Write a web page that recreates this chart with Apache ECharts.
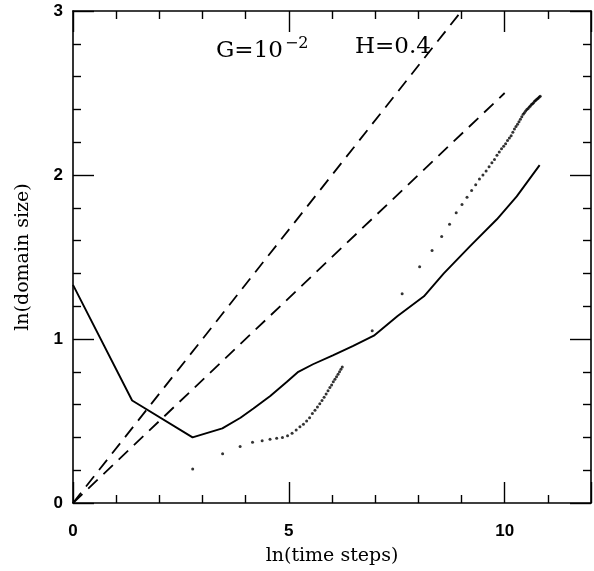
<!DOCTYPE html>
<html>
<head>
<meta charset="utf-8">
<script src="https://cdn.jsdelivr.net/npm/echarts@6/dist/echarts.min.js"></script>
<style>html,body{margin:0;padding:0;background:#fff}#c{width:594px;height:571px}</style>
</head>
<body>
<div id="c"></div>
<script>
// Solid curve: ln(time steps), ln(domain size)
const solidX = [0, 1.37, 2.77, 3.46, 3.88, 4.18, 4.57, 4.95, 5.22, 5.56, 6.02, 6.48, 6.97, 7.52, 8.13, 8.59, 9.20, 9.82, 10.28, 10.81];
const solidY = [1.33, 0.625, 0.40, 0.455, 0.52, 0.576, 0.653, 0.738, 0.80, 0.846, 0.90, 0.957, 1.02, 1.14, 1.26, 1.40, 1.566, 1.73, 1.87, 2.06];

// Dotted curve, early part
const dotX1 = [2.773, 3.466, 3.871, 4.159, 4.382, 4.564, 4.718, 4.852, 4.970, 5.075, 5.170, 5.257, 5.338, 5.412, 5.481, 5.545,
               5.606, 5.663, 5.717, 5.768, 5.817, 5.864, 5.908, 5.951, 5.991, 6.030, 6.068, 6.105, 6.140, 6.174, 6.207, 6.238];
const dotY1 = [0.207, 0.30, 0.345, 0.37, 0.38, 0.388, 0.395, 0.40, 0.41, 0.425, 0.445, 0.465, 0.48, 0.50, 0.52, 0.545,
               0.565, 0.585, 0.605, 0.625, 0.645, 0.665, 0.685, 0.705, 0.72, 0.74, 0.755, 0.77, 0.785, 0.80, 0.815, 0.83];

// Dotted curve, late part
const dotX2 = [6.931, 7.625, 8.030, 8.318, 8.541, 8.723, 8.877, 9.011, 9.128, 9.234, 9.329, 9.416, 9.496, 9.570, 9.639, 9.704,
               9.764, 9.821, 9.875, 9.927, 9.976, 10.022, 10.066, 10.109, 10.150, 10.189, 10.227, 10.263, 10.298, 10.332, 10.365,
               10.397, 10.428, 10.457, 10.486, 10.515, 10.542, 10.569, 10.595, 10.620, 10.645, 10.669, 10.692, 10.715, 10.738,
               10.760, 10.781, 10.802, 10.823];
const dotY2 = [1.05, 1.276, 1.44, 1.54, 1.625, 1.70, 1.77, 1.82, 1.865, 1.905, 1.94, 1.975, 2.00, 2.025, 2.05, 2.075,
               2.095, 2.12, 2.14, 2.16, 2.175, 2.19, 2.21, 2.225, 2.24, 2.26, 2.28, 2.295, 2.31, 2.325, 2.34,
               2.355, 2.37, 2.38, 2.39, 2.40, 2.405, 2.415, 2.42, 2.43, 2.435, 2.44, 2.45, 2.455, 2.46,
               2.465, 2.47, 2.475, 2.48];

// Dashed reference lines
const dashSteepX = [0, 9];
const dashSteepY = [0, 3];
const dashShallowX = [0, 10];
const dashShallowY = [0, 2.5];

const zip = (a, b) => a.map((v, i) => [v, b[i]]);

const chart = echarts.init(document.getElementById('c'), null, {renderer: 'canvas'});
const serif = 'DejaVu Serif';
const tickCommon = (len, mlen, split) => ({
  axisTick: {show: true, inside: true, length: len, lineStyle: {color: '#000', width: 1.4}},
  minorTick: {show: true, splitNumber: split, length: mlen, lineStyle: {color: '#000', width: 1.4}},
  axisLine: {show: true, onZero: false, lineStyle: {color: '#000', width: 1.6}},
  splitLine: {show: false}
});

chart.setOption({
  animation: false,
  backgroundColor: '#fff',
  grid: {left: 73, top: 11, width: 520, height: 493},
  xAxis: [
    Object.assign({type: 'value', min: 0, max: 12, interval: 5, position: 'bottom',
      name: 'ln(time steps)', nameLocation: 'middle', nameGap: 44,
      nameTextStyle: {fontFamily: serif, fontSize: 19, color: '#000'},
      axisLabel: {fontFamily: 'Liberation Sans', fontWeight: 'bold', fontSize: 17, color: '#000', margin: 20,
        formatter: v => (v % 5 === 0 ? String(v) : '')}}, tickCommon(21, 8, 5)),
    Object.assign({type: 'value', min: 0, max: 12, interval: 5, position: 'top',
      axisLabel: {show: false}}, tickCommon(21, 8, 5))
  ],
  yAxis: [
    Object.assign({type: 'value', min: 0, max: 3, interval: 1, position: 'left',
      name: 'ln(domain size)', nameLocation: 'middle', nameGap: 40, nameRotate: 90,
      nameTextStyle: {fontFamily: serif, fontSize: 19, color: '#000'},
      axisLabel: {fontFamily: 'Liberation Sans', fontWeight: 'bold', fontSize: 17, color: '#000', margin: 10}}, tickCommon(21, 8, 5)),
    Object.assign({type: 'value', min: 0, max: 3, interval: 1, position: 'right',
      axisLabel: {show: false}}, tickCommon(21, 8, 5))
  ],
  graphic: [{
    type: 'text', left: 216, top: 36,
    style: {
      text: 'G=10{s|−2}',
      rich: {s: {fontFamily: serif, fontSize: 16, verticalAlign: 'top', padding: [0, 0, 14, 2]}},
      fontFamily: serif, fontSize: 23, fill: '#000'
    }
  }, {
    type: 'text', left: 355, top: 36,
    style: {text: 'H=0.4', fontFamily: serif, fontSize: 23, fill: '#000'}
  }],
  series: [
    {type: 'line', data: zip(solidX, solidY), symbol: 'none', lineStyle: {color: '#000', width: 1.9}},
    {type: 'line', data: zip(dashSteepX, dashSteepY), symbol: 'none', lineStyle: {color: '#000', width: 1.8, type: [13, 8]}},
    {type: 'line', data: zip(dashShallowX, dashShallowY), symbol: 'none', lineStyle: {color: '#000', width: 1.8, type: [13, 8]}},
    {type: 'scatter', data: zip(dotX1, dotY1), symbolSize: 3, itemStyle: {color: '#000'}},
    {type: 'scatter', data: zip(dotX2, dotY2), symbolSize: 3, itemStyle: {color: '#000'}}
  ]
});
</script>
</body>
</html>
